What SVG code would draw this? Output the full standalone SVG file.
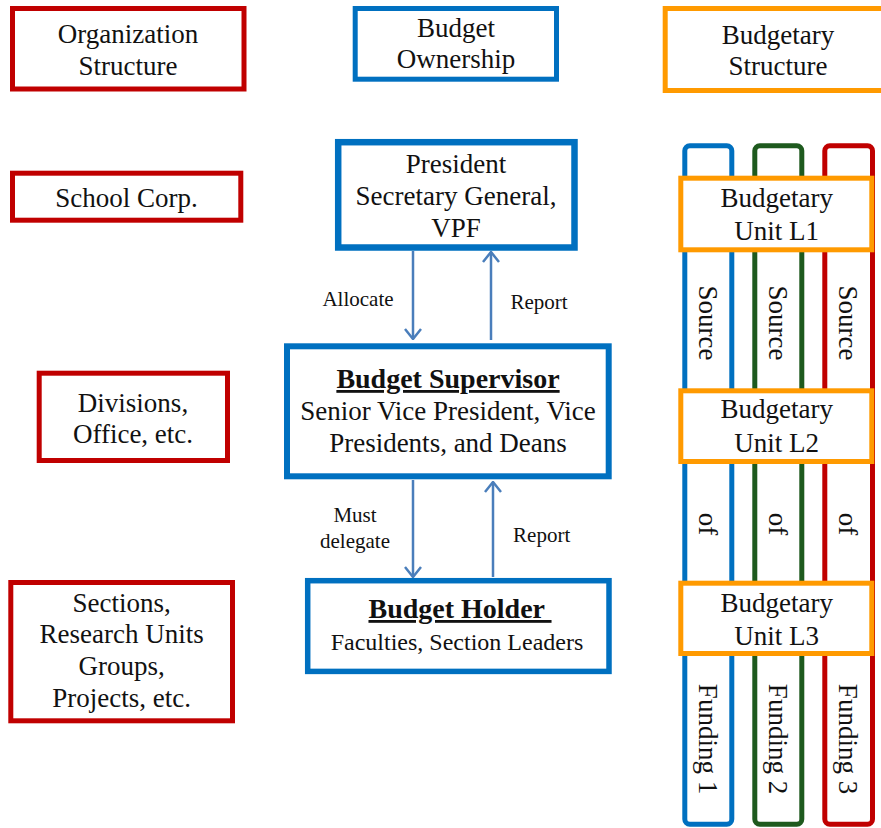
<svg xmlns="http://www.w3.org/2000/svg" width="881" height="828" viewBox="0 0 881 828">
<defs>
<style>
.t{font-family:"Liberation Serif","Times New Roman",serif;font-size:27px;fill:#111;text-anchor:middle}
.s{font-size:21px}
.m{font-size:24px}
.b{font-weight:bold;text-decoration:underline;font-size:28px}
.red{fill:#fff;stroke:#C00000;stroke-width:5}
.blue{fill:#fff;stroke:#0070C0;stroke-width:5}
.orange{fill:#fff;stroke:#FF9A00;stroke-width:5}
.col{fill:#fff;stroke-width:5}
.arr{stroke:#4A7EBB;stroke-width:2.5;fill:none;marker-end:url(#ah)}
</style>
<marker id="ah" viewBox="0 0 12 18" refX="11" refY="9" markerWidth="12" markerHeight="18" markerUnits="userSpaceOnUse" orient="auto">
<path d="M1,1 L11,9 L1,17" fill="none" stroke="#4A7EBB" stroke-width="2.5"/>
</marker>
</defs>
<rect width="881" height="828" fill="#fff"/>

<!-- Headers -->
<g id="org-structure">
<rect class="red" x="12.5" y="8.5" width="231.5" height="80.5"/>
<text class="t" x="128" y="43">Organization</text>
<text class="t" x="128" y="75">Structure</text>
</g>
<g id="budget-ownership">
<rect class="blue" x="355.2" y="8.5" width="201.3" height="70.7"/>
<text class="t" x="456" y="37">Budget</text>
<text class="t" x="456" y="68">Ownership</text>
</g>
<g id="budgetary-structure">
<rect class="orange" x="665.2" y="8.5" width="240" height="82"/>
<text class="t" x="778" y="44">Budgetary</text>
<text class="t" x="778" y="75">Structure</text>
</g>

<!-- Organization column -->
<g id="school-corp">
<rect class="red" x="12.5" y="173.2" width="228.3" height="47"/>
<text class="t" x="126.5" y="207">School Corp.</text>
</g>
<g id="divisions">
<rect class="red" x="39.2" y="373.2" width="188.3" height="87.3"/>
<text class="t" x="133" y="412">Divisions,</text>
<text class="t" x="133" y="443">Office, etc.</text>
</g>
<g id="sections">
<rect class="red" x="10.8" y="582.5" width="221.7" height="138.3"/>
<text class="t" x="121.7" y="612">Sections,</text>
<text class="t" x="121.7" y="643">Research Units</text>
<text class="t" x="121.7" y="675">Groups,</text>
<text class="t" x="121.7" y="707">Projects, etc.</text>
</g>

<!-- Ownership column -->
<g id="president">
<rect class="blue" x="338.2" y="142.2" width="236.3" height="105.3" style="stroke-width:6.5"/>
<text class="t" x="456" y="173">President</text>
<text class="t" x="456" y="205">Secretary General,</text>
<text class="t" x="456" y="237">VPF</text>
</g>
<g id="budget-supervisor">
<rect class="blue" x="287" y="346.3" width="321.7" height="130" style="stroke-width:6"/>
<text class="t b" x="448" y="388">Budget Supervisor</text>
<text class="t" x="448" y="420">Senior Vice President, Vice</text>
<text class="t" x="448" y="452">Presidents, and Deans</text>
</g>
<g id="budget-holder">
<rect class="blue" x="307.7" y="580.7" width="301.3" height="90.7" style="stroke-width:5.5"/>
<text class="t b" x="460" y="618" xml:space="preserve">Budget Holder </text>
<text class="t m" x="457" y="650">Faculties, Section Leaders</text>
</g>

<!-- Connectors -->
<g id="connectors">
<line class="arr" x1="413" y1="251" x2="413" y2="339"/>
<line class="arr" x1="491" y1="340" x2="491" y2="252"/>
<line class="arr" x1="413" y1="480" x2="413" y2="577"/>
<line class="arr" x1="493" y1="577" x2="493" y2="482"/>
<text class="t s" x="358" y="306">Allocate</text>
<text class="t s" x="539" y="309">Report</text>
<text class="t s" x="355" y="522">Must</text>
<text class="t s" x="355" y="548">delegate</text>
<text class="t s" x="541.7" y="542">Report</text>
</g>

<!-- Funding columns -->
<g id="funding-1">
<rect class="col" x="684.8" y="145.8" width="47" height="678.4" rx="5" stroke="#0070C0"/>
<text class="t" x="699" y="323" transform="rotate(90 699 323)">Source</text>
<text class="t" x="699" y="524" transform="rotate(90 699 524)">of</text>
<text class="t" x="699" y="739" transform="rotate(90 699 739)">Funding 1</text>
</g>
<g id="funding-2">
<rect class="col" x="754.8" y="145.8" width="47" height="678.4" rx="5" stroke="#1E5A1E"/>
<text class="t" x="768.5" y="323" transform="rotate(90 768.5 323)">Source</text>
<text class="t" x="768.5" y="524" transform="rotate(90 768.5 524)">of</text>
<text class="t" x="768.5" y="739" transform="rotate(90 768.5 739)">Funding 2</text>
</g>
<g id="funding-3">
<rect class="col" x="824.8" y="145.8" width="47.7" height="678.4" rx="5" stroke="#C00000"/>
<text class="t" x="838.5" y="323" transform="rotate(90 838.5 323)">Source</text>
<text class="t" x="838.5" y="524" transform="rotate(90 838.5 524)">of</text>
<text class="t" x="838.5" y="739" transform="rotate(90 838.5 739)">Funding 3</text>
</g>

<!-- Budgetary units -->
<g id="unit-l1">
<rect class="orange" x="680.8" y="178.2" width="191" height="71.6"/>
<text class="t" x="776.7" y="207">Budgetary</text>
<text class="t" x="776.7" y="240">Unit L1</text>
</g>
<g id="unit-l2">
<rect class="orange" x="680.8" y="390.8" width="191" height="70.7"/>
<text class="t" x="776.7" y="418">Budgetary</text>
<text class="t" x="776.7" y="452">Unit L2</text>
</g>
<g id="unit-l3">
<rect class="orange" x="680.8" y="583.2" width="191" height="70.3"/>
<text class="t" x="776.7" y="612">Budgetary</text>
<text class="t" x="776.7" y="645">Unit L3</text>
</g>
</svg>
